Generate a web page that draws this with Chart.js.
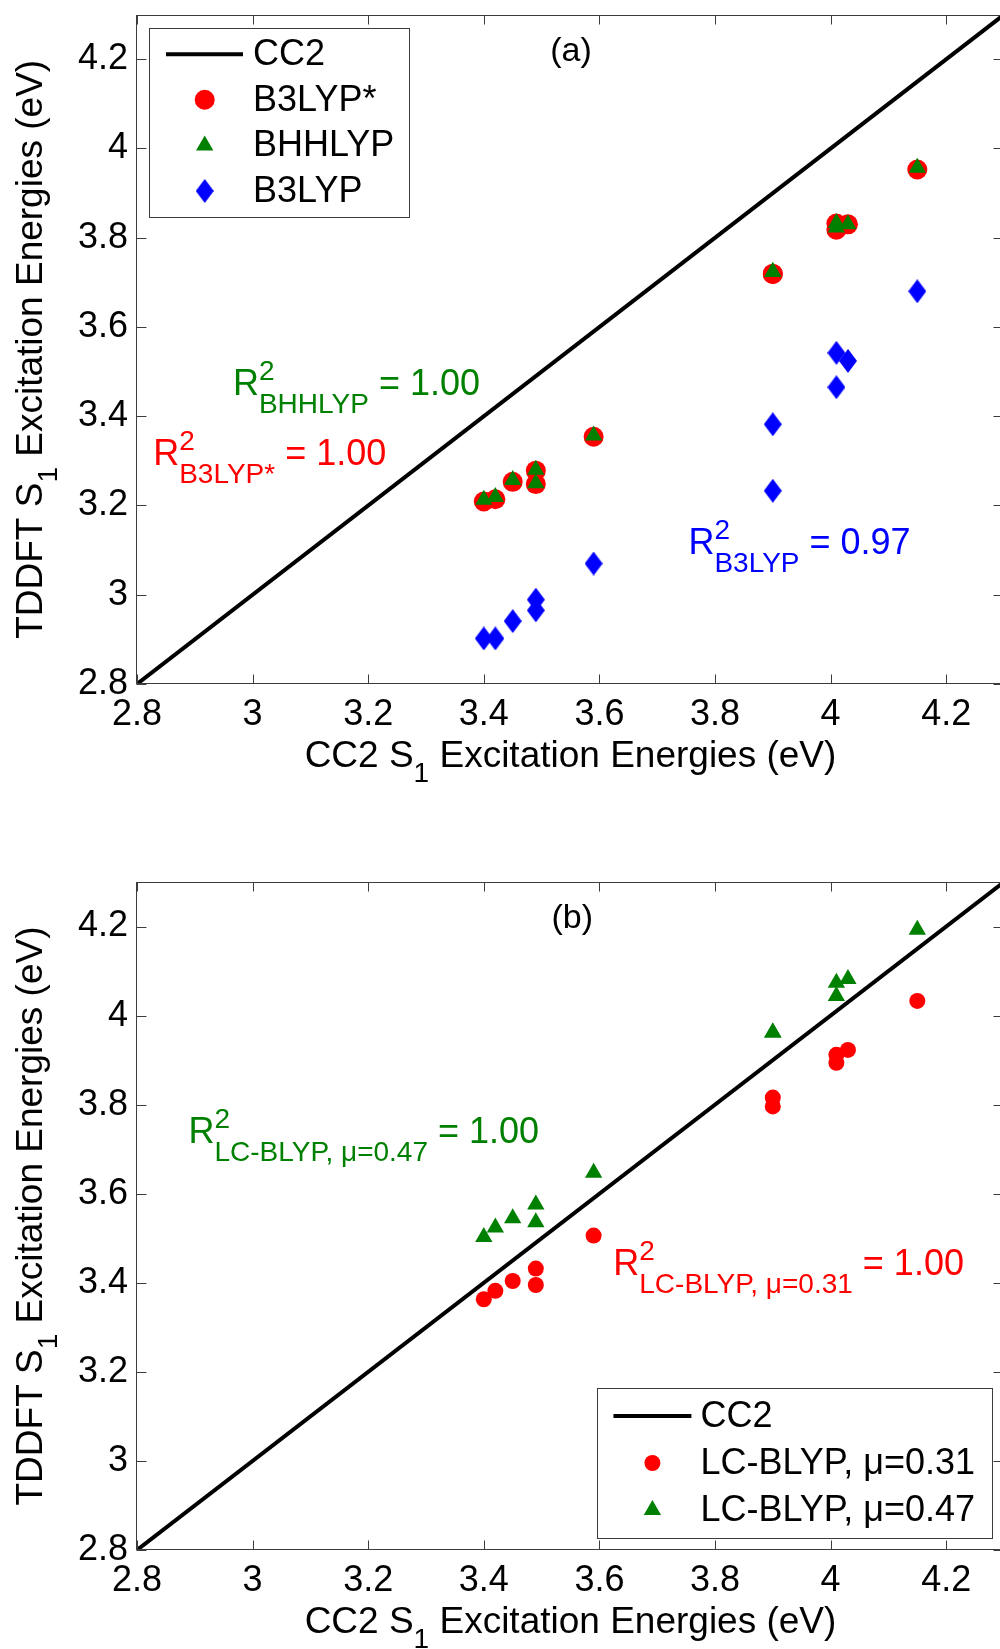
<!DOCTYPE html>
<html>
<head>
<meta charset="utf-8">
<title>TDDFT vs CC2 S1 excitation energies</title>
<script src="https://cdn.jsdelivr.net/npm/chart.js@4.4.1/dist/chart.umd.min.js"></script>
<style>
  html, body { margin: 0; padding: 0; background: #fff; overflow: hidden; }
  body { width: 1000px; height: 1649px; position: relative; }
  canvas { position: absolute; left: 0; }
  /* the y scale keeps half a label of room above the plot, so panel (a) is nudged up */
  #chartA { top: -16px; }
  #chartB { top: 790px; }
</style>
</head>
<body>
<canvas id="chartA" width="1014" height="806"></canvas>
<canvas id="chartB" width="1014" height="859"></canvas>
<script>
// CC2 S1 energies (eV), one per molecule
const cc2 = [3.40, 3.42, 3.45, 3.49, 3.49, 3.59, 3.90, 3.90, 4.01, 4.01, 4.03, 4.15];

// panel (a): TDDFT S1 energies (eV)
const b3lypStar = [3.209, 3.214, 3.253, 3.278, 3.248, 3.354, 3.719, 3.719, 3.818, 3.832, 3.830, 3.953];
const bhhlyp    = [3.213, 3.219, 3.257, 3.280, 3.250, 3.357, 3.723, 3.723, 3.823, 3.833, 3.830, 3.957];
const b3lyp     = [2.902, 2.902, 2.941, 2.989, 2.965, 3.070, 3.382, 3.233, 3.542, 3.465, 3.524, 3.680];

// panel (b): LC-BLYP with two range-separation parameters
const lcBlyp031 = [3.363, 3.382, 3.404, 3.432, 3.395, 3.506, 3.816, 3.796, 3.894, 3.912, 3.923, 4.033];
const lcBlyp047 = [3.503, 3.524, 3.545, 3.576, 3.536, 3.647, 3.962, 3.962, 4.044, 4.074, 4.082, 4.193];

// y = x reference line and axis ticks
const diagonal = [2.8, 4.3];
const axisTicks = [2.8, 3.0, 3.2, 3.4, 3.6, 3.8, 4.0, 4.2];

const FONT = '"Liberation Sans", Arial, Helvetica, sans-serif';
const RED = '#ff0000', GREEN = '#008000', BLUE = '#0000ff', AXIS = '#3c3c3c';

function font(size) { return size + 'px ' + FONT; }

// blue diamond marker is taller than wide, so build it as an image
function diamond(w, h, color) {
  const c = document.createElement('canvas');
  c.width = w; c.height = h;
  const g = c.getContext('2d');
  g.fillStyle = color;
  g.beginPath();
  g.moveTo(w / 2, 0); g.lineTo(w, h / 2); g.lineTo(w / 2, h); g.lineTo(0, h / 2);
  g.closePath(); g.fill();
  return c;
}

const pts = ys => cc2.map((x, i) => ({ x, y: ys[i] }));
const line = () => diagonal.map(v => ({ x: v, y: v }));

// head + stacked sup/sub + tail, all on one baseline
function richWidth(ctx, r) {
  ctx.font = font(r.size);
  let w = ctx.measureText(r.head).width + ctx.measureText(r.tail || '').width;
  ctx.font = font(r.small);
  w += Math.max(r.sup ? ctx.measureText(r.sup).width : 0, r.sub ? ctx.measureText(r.sub).width : 0);
  return w;
}
function drawRich(ctx, x, y, r) {
  ctx.textAlign = 'left';
  ctx.textBaseline = 'alphabetic';
  ctx.font = font(r.size);
  ctx.fillText(r.head, x, y);
  x += ctx.measureText(r.head).width;
  ctx.font = font(r.small);
  let w = 0;
  if (r.sup) { ctx.fillText(r.sup, x, y - r.up); w = ctx.measureText(r.sup).width; }
  if (r.sub) { ctx.fillText(r.sub, x, y + r.down); w = Math.max(w, ctx.measureText(r.sub).width); }
  x += w;
  if (r.tail) { ctx.font = font(r.size); ctx.fillText(r.tail, x, y); }
}

function r2(sub, value) {
  return { head: 'R', sup: '2', sub: sub, tail: ' = ' + value, size: 36, small: 28, up: 15, down: 18 };
}
const xTitle = { head: 'CC2 S', sub: '1', tail: ' Excitation Energies (eV)', size: 37, small: 28, down: 15 };
const yTitle = { head: 'TDDFT S', sub: '1', tail: ' Excitation Energies (eV)', size: 37, small: 28, down: 15 };

function drawMarker(ctx, ds, x, y) {
  const st = ds.pointStyle, r = ds.pointRadius;
  ctx.fillStyle = ds.backgroundColor;
  if (typeof st === 'object') { ctx.drawImage(st, x - st.width / 2, y - st.height / 2); return; }
  ctx.beginPath();
  if (st === 'triangle') {
    const a = 2 * Math.PI / 3;
    ctx.moveTo(x, y - r);
    ctx.lineTo(x + r * Math.sin(a), y - r * Math.cos(a));
    ctx.lineTo(x - r * Math.sin(a), y - r * Math.cos(a));
  } else {
    ctx.arc(x, y, r, 0, 2 * Math.PI);
  }
  ctx.closePath();
  ctx.fill();
}

function makePlugin(cfg) {
  return {
    id: 'figure',
    afterDraw(chart) {
      const { ctx, chartArea: a, scales } = chart;
      ctx.save();

      // box with inward ticks on all four sides
      ctx.strokeStyle = AXIS;
      ctx.lineWidth = 1;
      const L = Math.round(a.left) - 0.5, R = Math.round(a.right) - 0.5;
      const T = Math.round(a.top) + 0.5, B = Math.round(a.bottom) - 0.5;
      ctx.strokeRect(L, T, R - L, B - T);
      ctx.beginPath();
      axisTicks.forEach(v => {
        const px = Math.round(scales.x.getPixelForValue(v)) + 0.5;
        ctx.moveTo(px, B); ctx.lineTo(px, B - 9);
        ctx.moveTo(px, T); ctx.lineTo(px, T + 9);
        const py = Math.round(scales.y.getPixelForValue(v)) + 0.5;
        ctx.moveTo(L, py); ctx.lineTo(L + 10, py);
        ctx.moveTo(R, py); ctx.lineTo(R - 10, py);
      });
      ctx.stroke();

      // legend
      const lg = cfg.legend, dsets = chart.data.datasets;
      ctx.font = font(36);
      const maxW = Math.max(...dsets.map(d => ctx.measureText(d.label).width));
      const w = lg.textX + maxW + lg.padR;
      const bx = lg.corner === 'tl' ? a.left + lg.dx : a.right - lg.dx - w;
      const by = lg.corner === 'tl' ? a.top + lg.dy : a.bottom - lg.dy - lg.h;
      ctx.fillStyle = '#fff';
      ctx.fillRect(bx, by, w, lg.h);
      ctx.strokeStyle = AXIS;
      ctx.strokeRect(Math.round(bx) + 0.5, Math.round(by) + 0.5, Math.round(w), Math.round(lg.h));
      dsets.forEach((d, i) => {
        const ry = by + lg.first + i * lg.step;
        if (d.showLine) {
          ctx.strokeStyle = d.borderColor;
          ctx.lineWidth = d.borderWidth;
          ctx.beginPath();
          ctx.moveTo(bx + lg.lineX[0], ry); ctx.lineTo(bx + lg.lineX[1], ry);
          ctx.stroke();
        } else {
          drawMarker(ctx, d, bx + lg.markX, ry);
        }
        ctx.fillStyle = '#000';
        ctx.font = font(36);
        ctx.textAlign = 'left';
        ctx.textBaseline = 'middle';
        ctx.fillText(d.label, bx + lg.textX, ry + 1);
      });

      // panel tag and R^2 notes, placed in data coordinates
      cfg.notes.forEach(n => {
        const x = scales.x.getPixelForValue(n.x), y = scales.y.getPixelForValue(n.y);
        ctx.fillStyle = n.color;
        if (n.tag) {
          ctx.font = font(34);
          ctx.textAlign = 'center';
          ctx.textBaseline = 'alphabetic';
          ctx.fillText(n.tag, x, y);
        } else {
          drawRich(ctx, x, y, n.rich);
        }
      });

      // axis titles
      ctx.fillStyle = '#000';
      const xw = richWidth(ctx, xTitle);
      drawRich(ctx, (a.left + a.right) / 2 - xw / 2, a.bottom + 83, xTitle);
      const yw = richWidth(ctx, yTitle);
      ctx.translate(41.7, (a.top + a.bottom) / 2);
      ctx.rotate(-Math.PI / 2);
      drawRich(ctx, -yw / 2, 0, yTitle);

      ctx.restore();
    }
  };
}

function makeScales(xHeight) {
  const common = {
    type: 'linear',
    min: 2.8,
    max: 4.3,
    grid: { display: false, drawTicks: false },
    border: { display: false },
    afterBuildTicks: s => { s.ticks = axisTicks.map(v => ({ value: v })); },
    ticks: {
      autoSkip: false,
      maxRotation: 0,
      padding: 9,
      color: '#000',
      font: { family: FONT, size: 36 },
      callback: v => String(+v.toFixed(1))
    }
  };
  return {
    x: { ...common, position: 'bottom', afterFit: s => { s.height = xHeight; } },
    y: { ...common, position: 'left', afterFit: s => { s.width = 137; } }
  };
}

function baseOptions(padTop, xHeight) {
  return {
    responsive: false,
    animation: false,
    events: [],
    layout: { padding: { top: padTop, right: 0, bottom: 0, left: 0 } },
    plugins: { legend: { display: false }, tooltip: { enabled: false } },
    scales: makeScales(xHeight)
  };
}

// panel (a)
new Chart(document.getElementById('chartA'), {
  type: 'scatter',
  data: {
    datasets: [
      { label: 'CC2', data: line(), showLine: true, borderColor: '#000', borderWidth: 4, pointRadius: 0, order: 10 },
      { label: 'B3LYP*', data: pts(b3lypStar), pointStyle: 'circle', pointRadius: 10, backgroundColor: RED, borderWidth: 0, order: 3 },
      { label: 'BHHLYP', data: pts(bhhlyp), pointStyle: 'triangle', pointRadius: 10, backgroundColor: GREEN, borderWidth: 0, order: 2 },
      { label: 'B3LYP', data: pts(b3lyp), pointStyle: diamond(18, 24, BLUE), pointRadius: 10, backgroundColor: BLUE, borderWidth: 0, order: 1 }
    ]
  },
  options: baseOptions(0, 106),
  plugins: [makePlugin({
    legend: { corner: 'tl', dx: 12, dy: 13.6, h: 189, first: 26, step: 45.6, lineX: [17, 94], markX: 55.7, textX: 104, padR: 15 },
    notes: [
      { tag: '(a)', x: 3.551, y: 4.196, color: '#000' },
      { x: 2.966, y: 3.448, color: GREEN, rich: r2('BHHLYP', '1.00') },
      { x: 2.828, y: 3.291, color: RED, rich: r2('B3LYP*', '1.00') },
      { x: 3.754, y: 3.091, color: BLUE, rich: r2('B3LYP', '0.97') }
    ]
  })]
});

// panel (b)
new Chart(document.getElementById('chartB'), {
  type: 'scatter',
  data: {
    datasets: [
      { label: 'CC2', data: line(), showLine: true, borderColor: '#000', borderWidth: 4, pointRadius: 0, order: 10 },
      { label: 'LC-BLYP, \u03bc=0.31', data: pts(lcBlyp031), pointStyle: 'circle', pointRadius: 8, backgroundColor: RED, borderWidth: 0, order: 2 },
      { label: 'LC-BLYP, \u03bc=0.47', data: pts(lcBlyp047), pointStyle: 'triangle', pointRadius: 10, backgroundColor: GREEN, borderWidth: 0, order: 1 }
    ]
  },
  options: baseOptions(92, 99),
  plugins: [makePlugin({
    legend: { corner: 'br', dx: 12, dy: 12, h: 150, first: 28, step: 47, lineX: [16, 94], markX: 55, textX: 103, padR: 17 },
    notes: [
      { tag: '(b)', x: 3.553, y: 4.196, color: '#000' },
      { x: 2.889, y: 3.713, color: GREEN, rich: r2('LC-BLYP, \u03bc=0.47', '1.00') },
      { x: 3.624, y: 3.417, color: RED, rich: r2('LC-BLYP, \u03bc=0.31', '1.00') }
    ]
  })]
});
</script>
</body>
</html>
